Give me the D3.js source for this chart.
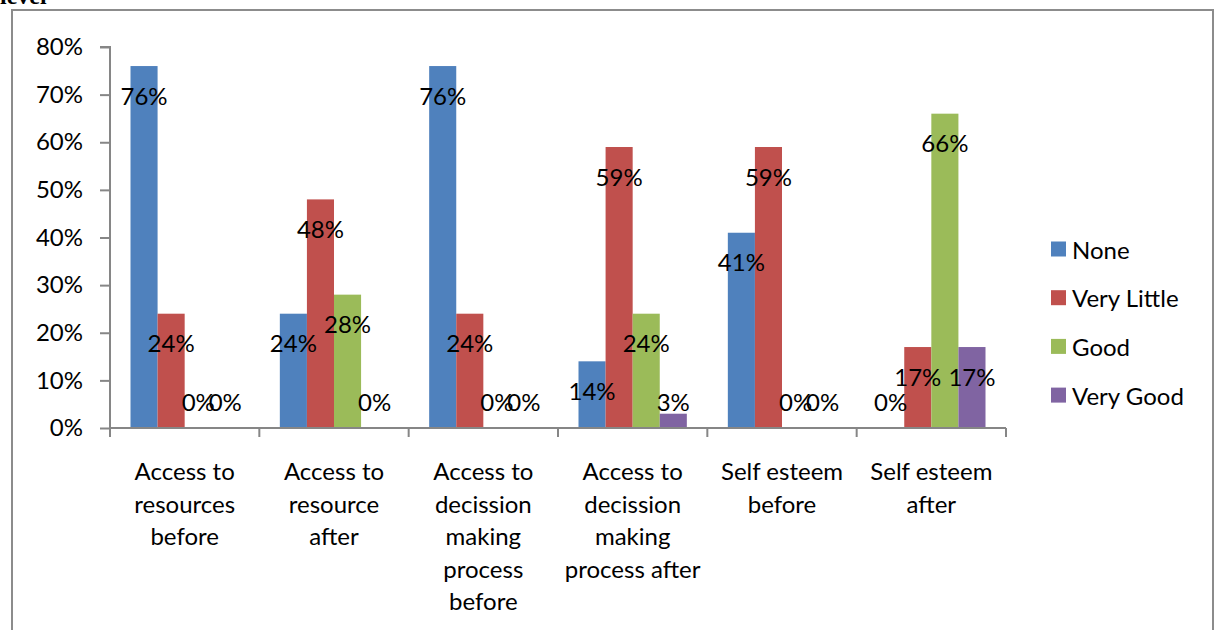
<!DOCTYPE html>
<html>
<head>
<meta charset="utf-8">
<script src="https://cdn.jsdelivr.net/npm/d3@7"></script>
<style>
  html, body { margin: 0; padding: 0; background: #fff; }
  svg text { font-family: "Lato", "Liberation Sans", sans-serif; fill: #000; }
</style>
</head>
<body>
<svg id="chart" width="1216" height="630"></svg>
<script>
// Categories (multi-line axis labels)
const categories = [
  ["Access to", "resources", "before"],
  ["Access to", "resource", "after"],
  ["Access to", "decission", "making", "process", "before"],
  ["Access to", "decission", "making", "process after"],
  ["Self esteem", "before"],
  ["Self esteem", "after"]
];
const seriesNames = ["None", "Very Little", "Good", "Very Good"];
const seriesColors = ["#4F81BD", "#C0504D", "#9BBB59", "#8064A2"];
// Percent values per series, one per category
const noneValues       = [76, 24, 76, 14, 41, 0];
const veryLittleValues = [24, 48, 24, 59, 59, 17];
const goodValues       = [0, 28, 0, 24, 0, 66];
const veryGoodValues   = [0, 0, 0, 3, 0, 17];
const yTicks = [0, 10, 20, 30, 40, 50, 60, 70, 80];

const seriesValues = [noneValues, veryLittleValues, goodValues, veryGoodValues];

const svg = d3.select("#chart");
const fontSize = 24;

// Outer frame and the clipped caption above it
svg.append("text").attr("x", 0).attr("y", 4)
  .style("font-family", "'Liberation Serif', serif")
  .style("font-weight", "bold").style("font-size", "24px").text("level");
svg.append("path")
  .attr("d", "M12,630 V10 H1213 V630")
  .attr("fill", "none").attr("stroke", "#8c8c8c").attr("stroke-width", 2);

const plot = { left: 110, right: 1006, top: 47, bottom: 428 };

const x0 = d3.scaleBand().domain(d3.range(categories.length))
  .range([plot.left, plot.right]).paddingInner(0).paddingOuter(0);
const groupPad = 20.5;
const x1 = d3.scaleBand().domain(d3.range(seriesNames.length))
  .range([groupPad, x0.bandwidth() - groupPad]);
const y = d3.scaleLinear().domain([0, 80]).range([plot.bottom, plot.top]);

// Y axis
const yAxis = svg.append("g").attr("transform", `translate(${plot.left},0)`)
  .call(d3.axisLeft(y).tickValues(yTicks).tickFormat(d => d + "%").tickSize(10).tickPadding(17));
yAxis.selectAll("path, line").attr("stroke", "#868686").attr("stroke-width", 2);
yAxis.select(".domain").attr("d", `M-10,${plot.top}H0V${plot.bottom}`);
yAxis.selectAll("text").style("font-size", fontSize + "px")
  .style("font-family", "Lato, sans-serif").attr("fill", "#000");

// Bars
const groups = svg.append("g").selectAll("g")
  .data(categories.map((c, i) => i)).join("g")
  .attr("transform", i => `translate(${x0(i)},0)`);

groups.selectAll("rect")
  .data(i => seriesValues.map((vals, s) => ({ s, v: vals[i] })))
  .join("rect")
  .attr("x", d => x1(d.s))
  .attr("width", x1.bandwidth())
  .attr("y", d => y(d.v))
  .attr("height", d => y(0) - y(d.v))
  .attr("fill", d => seriesColors[d.s]);

// Data labels
groups.selectAll("text.lbl")
  .data(i => seriesValues.map((vals, s) => ({ s, v: vals[i] })))
  .join("text").attr("class", "lbl")
  .attr("x", d => x1(d.s) + x1.bandwidth() / 2)
  .attr("y", d => Math.min(y(d.v) + 29, y(0) - 27))
  .attr("text-anchor", "middle")
  .attr("dominant-baseline", "central")
  .style("font-size", fontSize + "px")
  .text(d => d.v + "%");

// X axis
const xAxisG = svg.append("g");
xAxisG.append("line").attr("x1", plot.left).attr("x2", plot.right)
  .attr("y1", plot.bottom).attr("y2", plot.bottom)
  .attr("stroke", "#868686").attr("stroke-width", 2);
xAxisG.selectAll("line.tick")
  .data(d3.range(categories.length + 1)).join("line").attr("class", "tick")
  .attr("x1", i => plot.left + i * x0.bandwidth())
  .attr("x2", i => plot.left + i * x0.bandwidth())
  .attr("y1", plot.bottom).attr("y2", plot.bottom + 9)
  .attr("stroke", "#868686").attr("stroke-width", 2);

categories.forEach((lines, i) => {
  const t = svg.append("text")
    .attr("x", x0(i) + x0.bandwidth() / 2)
    .attr("y", 480)
    .attr("text-anchor", "middle")
    .style("font-size", fontSize + "px");
  lines.forEach((ln, k) => {
    t.append("tspan").attr("x", x0(i) + x0.bandwidth() / 2)
      .attr("y", 480 + k * 32.5).text(ln);
  });
});

// Legend
const legend = svg.append("g");
seriesNames.forEach((name, s) => {
  const ly = 249 + s * 48.7;
  legend.append("rect").attr("x", 1051).attr("y", ly - 7.5)
    .attr("width", 15).attr("height", 15).attr("fill", seriesColors[s]);
  legend.append("text").attr("x", 1072).attr("y", ly)
    .attr("dominant-baseline", "central")
    .style("font-size", fontSize + "px").text(name);
});
</script>
</body>
</html>
